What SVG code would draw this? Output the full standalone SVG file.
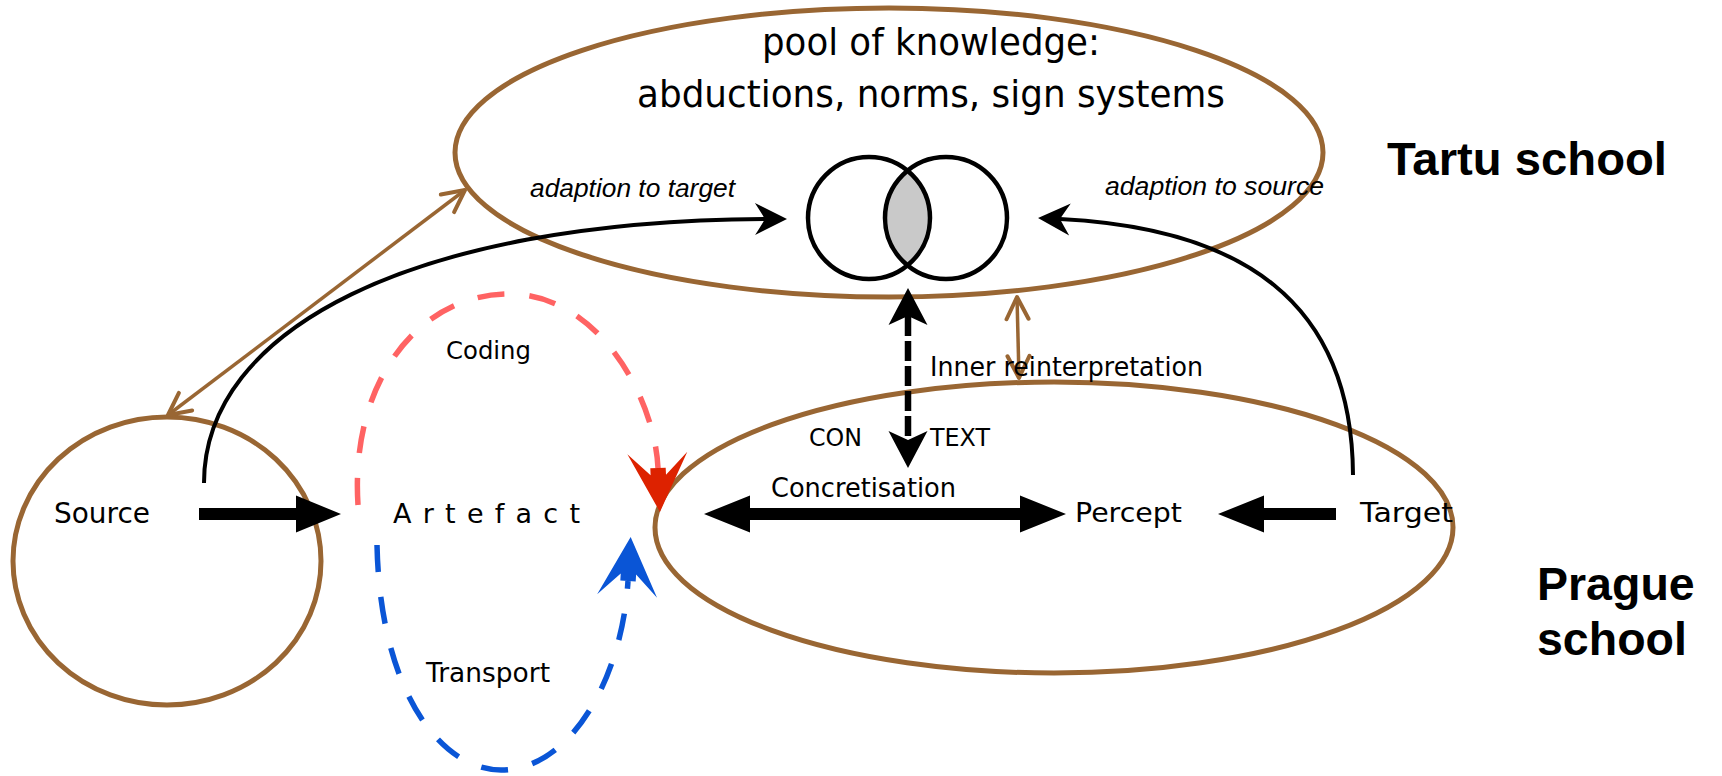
<svg xmlns="http://www.w3.org/2000/svg" width="1722" height="776" viewBox="0 0 1722 776">
  <style>
    .brown { fill: none; stroke: #996633; stroke-width: 5; }
    .lbl { font-family: "DejaVu Sans", "Liberation Sans", sans-serif; fill: #000; }
    .ital { font-family: "Liberation Sans", Arial, sans-serif; font-style: italic; fill: #000; font-size: 25px; }
    .school { font-family: "Liberation Sans", Arial, sans-serif; font-weight: bold; font-size: 46.5px; fill: #000; }
    .curve { fill: none; stroke: #000; stroke-width: 4; }
    .block { fill: #000; stroke: none; }
  </style>
  <defs>
    <!-- swept-back head for the adaption curves; origin sits at the notch -->
    <marker id="barb" markerUnits="userSpaceOnUse" orient="auto" refX="0" refY="0" markerWidth="60" markerHeight="60" overflow="visible">
      <path d="M22,0 L-10,-16 Q-3,-5 0,0 Q-3,5 -10,16 Z" fill="#000"/>
    </marker>
    <!-- notched head for the CON/TEXT link -->
    <marker id="vhead" markerUnits="userSpaceOnUse" orient="auto-start-reverse" refX="0" refY="0" markerWidth="60" markerHeight="60" overflow="visible">
      <path d="M28,0 L-9,-19.5 L0,0 L-9,19.5 Z" fill="#000"/>
    </marker>
    <!-- open brown chevron; origin is the tip -->
    <marker id="bhead" markerUnits="userSpaceOnUse" orient="auto-start-reverse" refX="0" refY="0" markerWidth="60" markerHeight="60" overflow="visible">
      <path d="M-22,-11 L0,0 L-22,11" fill="none" stroke="#996633" stroke-width="4" stroke-linecap="round" stroke-linejoin="round"/>
    </marker>
    <marker id="redhead" markerUnits="userSpaceOnUse" orient="auto" refX="0" refY="0" markerWidth="90" markerHeight="90" overflow="visible">
      <path d="M44,0 L-15,-30 L7,-7.7 L0,-7.7 L0,7.7 L7,7.7 L-15,30 Z" fill="#dd2200"/>
    </marker>
    <marker id="bluehead" markerUnits="userSpaceOnUse" orient="auto" refX="0" refY="0" markerWidth="90" markerHeight="90" overflow="visible">
      <path d="M44,0 L-15,-30 L7,-7.7 L0,-7.7 L0,7.7 L7,7.7 L-15,30 Z" fill="#0a55d6"/>
    </marker>
    <clipPath id="leftDisc">
      <circle cx="869" cy="218" r="61"/>
    </clipPath>
  </defs>

  <rect x="0" y="0" width="1722" height="776" fill="#fff"/>

  <!-- shared knowledge pool -->
  <g id="pool">
    <ellipse class="brown" cx="889" cy="152.5" rx="434" ry="144.5"/>
    <text class="lbl" x="931" y="55" font-size="38" text-anchor="middle" textLength="338" lengthAdjust="spacingAndGlyphs">pool of knowledge:</text>
    <text class="lbl" x="931" y="107" font-size="38" text-anchor="middle" textLength="588" lengthAdjust="spacingAndGlyphs">abductions, norms, sign systems</text>
  </g>

  <!-- overlap of the two codes -->
  <g id="venn">
    <circle cx="946" cy="218" r="61" fill="#c9c9c9" clip-path="url(#leftDisc)"/>
    <circle cx="869" cy="218" r="61" fill="none" stroke="#000" stroke-width="4.5"/>
    <circle cx="946" cy="218" r="61" fill="none" stroke="#000" stroke-width="4.5"/>
  </g>

  <g id="source">
    <ellipse class="brown" cx="167" cy="561" rx="154" ry="144"/>
    <text class="lbl" x="54" y="523" font-size="28" textLength="96" lengthAdjust="spacingAndGlyphs">Source</text>
  </g>

  <g id="artefact">
    <text class="lbl" x="393" y="523" font-size="27" textLength="187" lengthAdjust="spacing">Artefact</text>
  </g>

  <g id="reception">
    <ellipse class="brown" cx="1054" cy="527.5" rx="399" ry="145.5"/>
  </g>

  <g id="percept">
    <text class="lbl" x="1075" y="522" font-size="27" textLength="107" lengthAdjust="spacingAndGlyphs">Percept</text>
  </g>

  <g id="target">
    <text class="lbl" x="1360" y="522" font-size="27" textLength="93" lengthAdjust="spacingAndGlyphs">Target</text>
  </g>

  <g id="tartu">
    <text class="school" x="1387" y="175" textLength="280" lengthAdjust="spacingAndGlyphs">Tartu school</text>
  </g>

  <g id="prague">
    <text class="school" x="1537" y="600">Prague</text>
    <text class="school" x="1537" y="655">school</text>
  </g>

  <g id="connectors">
    <!-- adaption curves into the overlap -->
    <path class="curve" d="M204,483 C204,330 410,221 765,219" marker-end="url(#barb)"/>
    <path class="curve" d="M1353,475 C1352,300 1240,228 1060,219" marker-end="url(#barb)"/>

    <!-- source <-> pool -->
    <line x1="168" y1="415" x2="465" y2="190" stroke="#996633" stroke-width="3.5" marker-start="url(#bhead)" marker-end="url(#bhead)"/>
    <!-- pool <-> reception -->
    <line x1="1017" y1="297" x2="1019" y2="378" stroke="#996633" stroke-width="3.5" marker-start="url(#bhead)" marker-end="url(#bhead)"/>

    <!-- CON/TEXT link -->
    <line x1="908" y1="316" x2="908" y2="440" stroke="#000" stroke-width="6.5" stroke-dasharray="20 5" marker-start="url(#vhead)" marker-end="url(#vhead)"/>

    <!-- coding loop -->
    <path d="M358,505 C350,380 420,294 509,294 C600,294 655,400 658,468" fill="none" stroke="#ff6363" stroke-width="5.5" stroke-dasharray="27 25" marker-end="url(#redhead)"/>
    <!-- transport loop -->
    <path d="M377,545 C380,690 440,770 501,770 C570,770 622,680 628,581" fill="none" stroke="#0a55d6" stroke-width="5.5" stroke-dasharray="27 25" marker-end="url(#bluehead)"/>

    <!-- block arrows along the main axis -->
    <path class="block" d="M199,508 L296,508 L296,495.5 L341,514 L296,532.5 L296,520 L199,520 Z"/>
    <path class="block" d="M704,514 L750,495.5 L750,508 L1020,508 L1020,495.5 L1066,514 L1020,532.5 L1020,520 L750,520 L750,532.5 Z"/>
    <path class="block" d="M1218,514 L1264,495.5 L1264,508 L1336,508 L1336,520 L1264,520 L1264,532.5 Z"/>

    <!-- connector labels -->
    <text class="ital" x="530" y="197" textLength="205" lengthAdjust="spacingAndGlyphs">adaption to target</text>
    <text class="ital" x="1105" y="195" textLength="219" lengthAdjust="spacingAndGlyphs">adaption to source</text>
    <text class="lbl" x="446" y="359" font-size="25" textLength="85" lengthAdjust="spacingAndGlyphs">Coding</text>
    <text class="lbl" x="426" y="682" font-size="26" textLength="124" lengthAdjust="spacingAndGlyphs">Transport</text>
    <text class="lbl" x="771" y="497" font-size="26" textLength="185" lengthAdjust="spacingAndGlyphs">Concretisation</text>
    <text class="lbl" x="930" y="376" font-size="26" textLength="273" lengthAdjust="spacingAndGlyphs">Inner reinterpretation</text>
    <text class="lbl" x="809" y="446" font-size="25" textLength="53" lengthAdjust="spacingAndGlyphs">CON</text>
    <text class="lbl" x="930" y="446" font-size="25" textLength="60" lengthAdjust="spacingAndGlyphs">TEXT</text>
  </g>
</svg>
